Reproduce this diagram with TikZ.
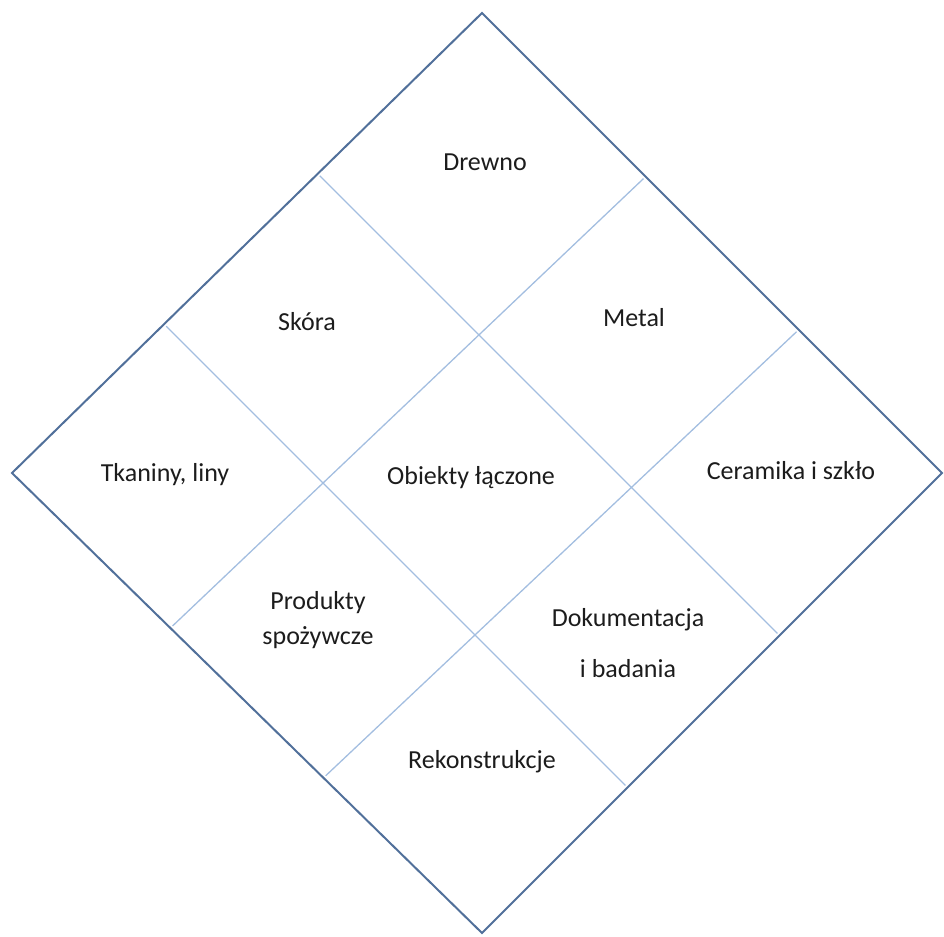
\documentclass[tikz,border=0pt]{standalone}
\usepackage{fontspec}
\setmainfont{Carlito}
\definecolor{frameblue}{HTML}{51709A}
\definecolor{gridblue}{HTML}{A3BEE0}
\definecolor{labelgray}{HTML}{1C1C1C}
\begin{document}
\begin{tikzpicture}[x=1pt,y=-1pt,
  frame/.style={draw=frameblue,line width=2pt,line join=miter},
  gridline/.style={draw=gridblue,line width=1.3pt,shorten <=3pt,shorten >=3pt},
  cell/.style={text=labelgray,inner sep=0pt,align=center,font=\fontsize{26}{35}\selectfont}]
\useasboundingbox (0,0) rectangle (944,936);
% outer diamond corners
\coordinate (T) at (482,13);
\coordinate (R) at (942,473);
\coordinate (B) at (482,933);
\coordinate (L) at (12,473);
\draw[frame] (T) -- (R) -- (B) -- (L) -- cycle;
% end points of the inner dividing lines
\coordinate (a1) at (317.7,173.7);
\coordinate (a2) at (779.5,635.5);
\coordinate (b1) at (164.1,324.1);
\coordinate (b2) at (627.5,787.5);
\coordinate (c1) at (170.4,628);
\coordinate (c2) at (645.6,176.6);
\coordinate (d1) at (323.5,777.8);
\coordinate (d2) at (798.7,329.7);
\draw[gridline] (a1) -- (a2);
\draw[gridline] (b1) -- (b2);
\draw[gridline] (c1) -- (c2);
\draw[gridline] (d1) -- (d2);
% cell labels
\node[cell] (drewno) at (485,162) {Drewno};
\node[cell] (skora) at (307,322) {Skóra};
\node[cell] (metal) at (634,318) {Metal};
\node[cell] (tkaniny) at (165,475) {Tkaniny, liny};
\node[cell] (obiekty) at (471,478) {Obiekty łączone};
\node[cell] (ceramika) at (791,471) {Ceramika i szkło};
\node[cell] (produkty) at (318,620) {Produkty\\spożywcze};
\node[cell] (dokumentacja) at (628,643) {Dokumentacja\\[16pt]i badania};
\node[cell] (rekonstrukcje) at (482,762) {Rekonstrukcje};
\end{tikzpicture}
\end{document}
